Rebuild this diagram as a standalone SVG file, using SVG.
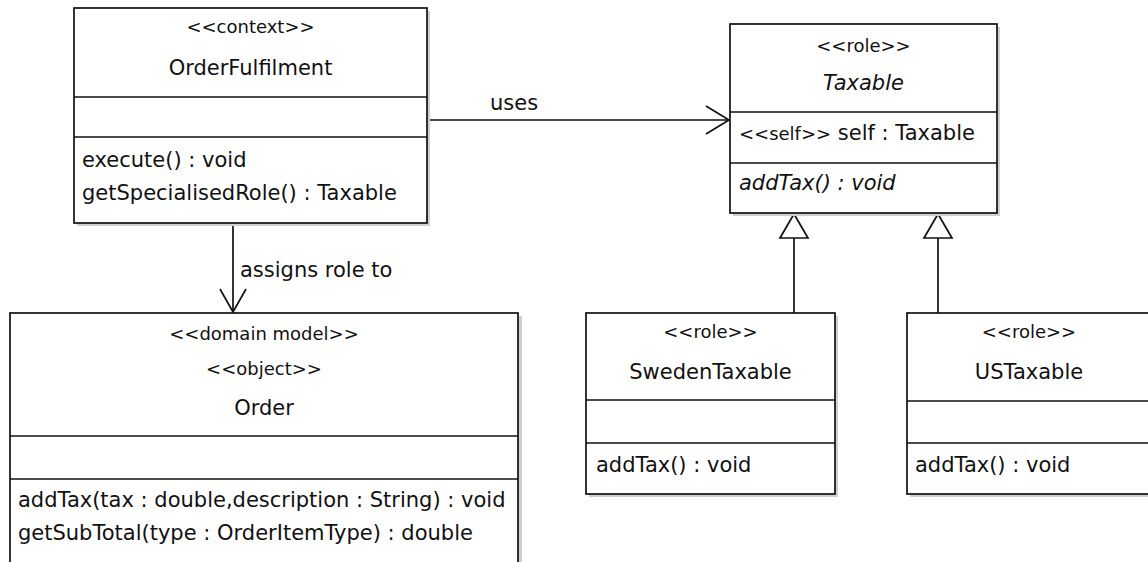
<svg xmlns="http://www.w3.org/2000/svg" width="1148" height="562" viewBox="0 0 1148 562">
  <style>
    .box { fill: #ffffff; stroke: #111111; stroke-width: 1.7; }
    .shadow { fill: #cfcfcf; }
    .div { stroke: #111111; stroke-width: 1.7; }
    .edge { fill: none; stroke: #111111; stroke-width: 1.7; }
    .tri { fill: #ffffff; stroke: #111111; stroke-width: 1.7; stroke-linejoin: miter; }
    text { font-family: "DejaVu Sans", "Liberation Sans", sans-serif; font-size: 21px; fill: #111111; }
    .c { text-anchor: middle; }
    .st { font-size: 18px; }
    .i { font-style: italic; }
  </style>
  <rect width="1148" height="562" fill="#ffffff"/>

  <!-- connectors -->
  <g id="connectors">
    <!-- uses -->
    <line class="edge" x1="427" y1="120" x2="729" y2="120"/>
    <polyline class="edge" points="706,106 729,120 706,134"/>
    <text x="490" y="110">uses</text>
    <!-- assigns role to -->
    <line class="edge" x1="233" y1="223" x2="233" y2="312"/>
    <polyline class="edge" points="220,289 233,312 246,289"/>
    <text x="240" y="277">assigns role to</text>
    <!-- generalisations -->
    <line class="edge" x1="794" y1="238" x2="794" y2="313"/>
    <polygon class="tri" points="794,214 780,238 808,238"/>
    <line class="edge" x1="938" y1="238" x2="938" y2="313"/>
    <polygon class="tri" points="938,214 924,238 952,238"/>
  </g>

  <!-- OrderFulfilment -->
  <g id="OrderFulfilment">
    <rect class="shadow" x="77" y="11" width="353" height="215"/>
    <rect class="box" x="74" y="8" width="353" height="215"/>
    <line class="div" x1="74" y1="97" x2="427" y2="97"/>
    <line class="div" x1="74" y1="137" x2="427" y2="137"/>
    <text class="c st" x="250.5" y="33">&lt;&lt;context&gt;&gt;</text>
    <text class="c" x="250.5" y="75">OrderFulfilment</text>
    <text x="82" y="167">execute() : void</text>
    <text x="82" y="200">getSpecialisedRole() : Taxable</text>
  </g>

  <!-- Taxable -->
  <g id="Taxable">
    <rect class="shadow" x="733" y="27" width="267" height="189"/>
    <rect class="box" x="730" y="24" width="267" height="189"/>
    <line class="div" x1="730" y1="112" x2="997" y2="112"/>
    <line class="div" x1="730" y1="163" x2="997" y2="163"/>
    <text class="c st" x="863.5" y="52">&lt;&lt;role&gt;&gt;</text>
    <text class="c i" x="863.5" y="90">Taxable</text>
    <text x="739" y="140"><tspan class="st">&lt;&lt;self&gt;&gt;</tspan> self : Taxable</text>
    <text class="i" x="739" y="190">addTax() : void</text>
  </g>

  <!-- Order -->
  <g id="Order">
    <rect class="shadow" x="13" y="316" width="509" height="260"/>
    <rect class="box" x="10" y="313" width="508" height="260"/>
    <line class="div" x1="10" y1="436" x2="518" y2="436"/>
    <line class="div" x1="10" y1="479" x2="518" y2="479"/>
    <text class="c st" x="264" y="340">&lt;&lt;domain model&gt;&gt;</text>
    <text class="c st" x="264" y="375">&lt;&lt;object&gt;&gt;</text>
    <text class="c" x="264" y="415">Order</text>
    <text x="18" y="507">addTax(tax : double,description : String) : void</text>
    <text x="18" y="540">getSubTotal(type : OrderItemType) : double</text>
  </g>

  <!-- SwedenTaxable -->
  <g id="SwedenTaxable">
    <rect class="shadow" x="589" y="316" width="249" height="181"/>
    <rect class="box" x="586" y="313" width="249" height="181"/>
    <line class="div" x1="586" y1="400" x2="835" y2="400"/>
    <line class="div" x1="586" y1="443" x2="835" y2="443"/>
    <text class="c st" x="710.5" y="338">&lt;&lt;role&gt;&gt;</text>
    <text class="c" x="710.5" y="379">SwedenTaxable</text>
    <text x="596" y="472">addTax() : void</text>
  </g>

  <!-- USTaxable -->
  <g id="USTaxable">
    <rect class="shadow" x="910" y="316" width="249" height="181"/>
    <rect class="box" x="907" y="313" width="249" height="181"/>
    <line class="div" x1="907" y1="401" x2="1156" y2="401"/>
    <line class="div" x1="907" y1="443" x2="1156" y2="443"/>
    <text class="c st" x="1029" y="338">&lt;&lt;role&gt;&gt;</text>
    <text class="c" x="1029" y="379">USTaxable</text>
    <text x="915" y="472">addTax() : void</text>
  </g>
</svg>
